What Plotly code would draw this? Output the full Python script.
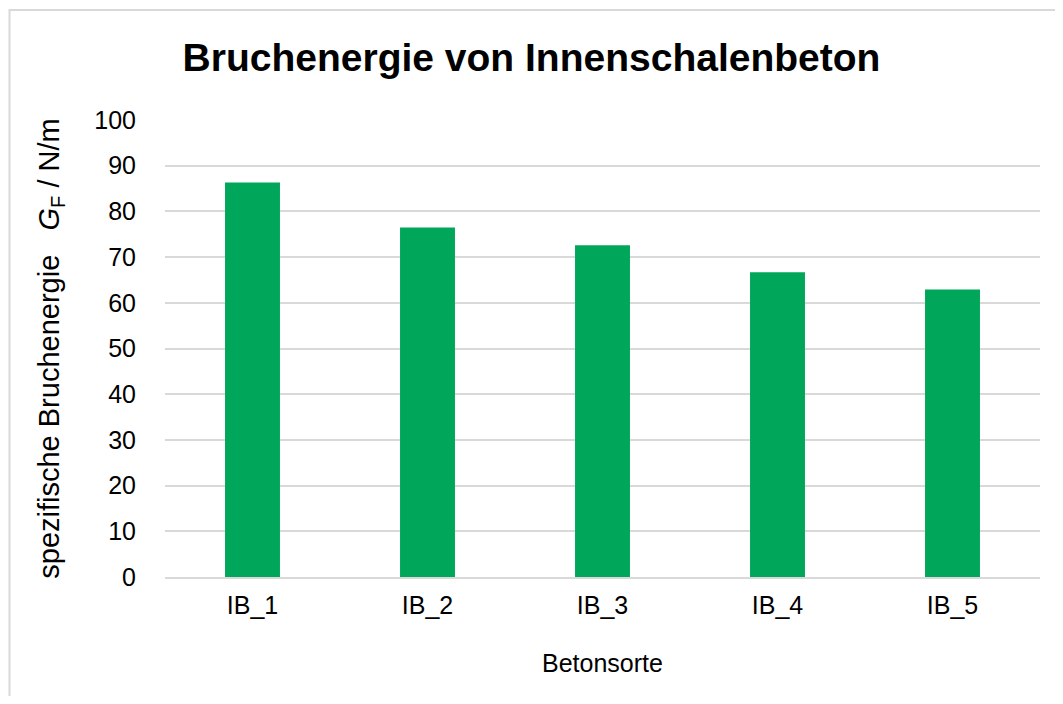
import plotly.graph_objects as go

categories = ["IB_1", "IB_2", "IB_3", "IB_4", "IB_5"]
values = [86.3, 76.5, 72.6, 66.7, 62.9]
y_ticks = [0, 10, 20, 30, 40, 50, 60, 70, 80, 90, 100]

fig = go.Figure(go.Bar(x=categories, y=values, marker=dict(color="#00A75A", line=dict(width=0))))

font = "Liberation Sans, Arial, sans-serif"
W, H = 1047, 688
L, R, T, B = 157, 15, 112, 119
pw, ph = W - L - R, H - T - B  # 875 x 457
off = 8  # page body margin


def px2paper_x(px):
    return (px - off - L) / pw


def px2paper_y(py):
    return (H - B + off - py) / ph


fig.update_layout(
    width=W, height=H,
    margin=dict(l=L, r=R, t=T, b=B),
    paper_bgcolor="white", plot_bgcolor="white",
    bargap=0.686,
    showlegend=False,
    title=dict(text="<b>Bruchenergie von Innenschalenbeton</b>", x=0.5, xanchor="center",
               y=1 - (57 - off) / H, yanchor="middle",
               font=dict(family=font, size=39, color="black")),
    xaxis=dict(showgrid=False, showline=True, linecolor="#d9d9d9", linewidth=2, ticks="",
               ticklabelstandoff=5,
               tickfont=dict(family=font, size=25, color="black"),
               title=dict(text="Betonsorte", font=dict(family=font, size=25, color="black"), standoff=36)),
    yaxis=dict(range=[0, 100], tickvals=y_ticks, showgrid=True, gridcolor="#d9d9d9", gridwidth=2,
               zeroline=False, ticks="", ticklabelstandoff=28,
               tickfont=dict(family=font, size=25, color="black"),
               title=dict(text="spezifische Bruchenergie   <i>G</i><sub>F</sub> / N/m",
                          font=dict(family=font, size=29, color="black"), standoff=26)),
    shapes=[dict(type="rect", xref="paper", yref="paper",
                 x0=px2paper_x(9.5), x1=px2paper_x(1075),
                 y0=px2paper_y(720), y1=px2paper_y(10),
                 line=dict(color="#d9d9d9", width=2), layer="below")],
)

fig.write_html("out.html")
